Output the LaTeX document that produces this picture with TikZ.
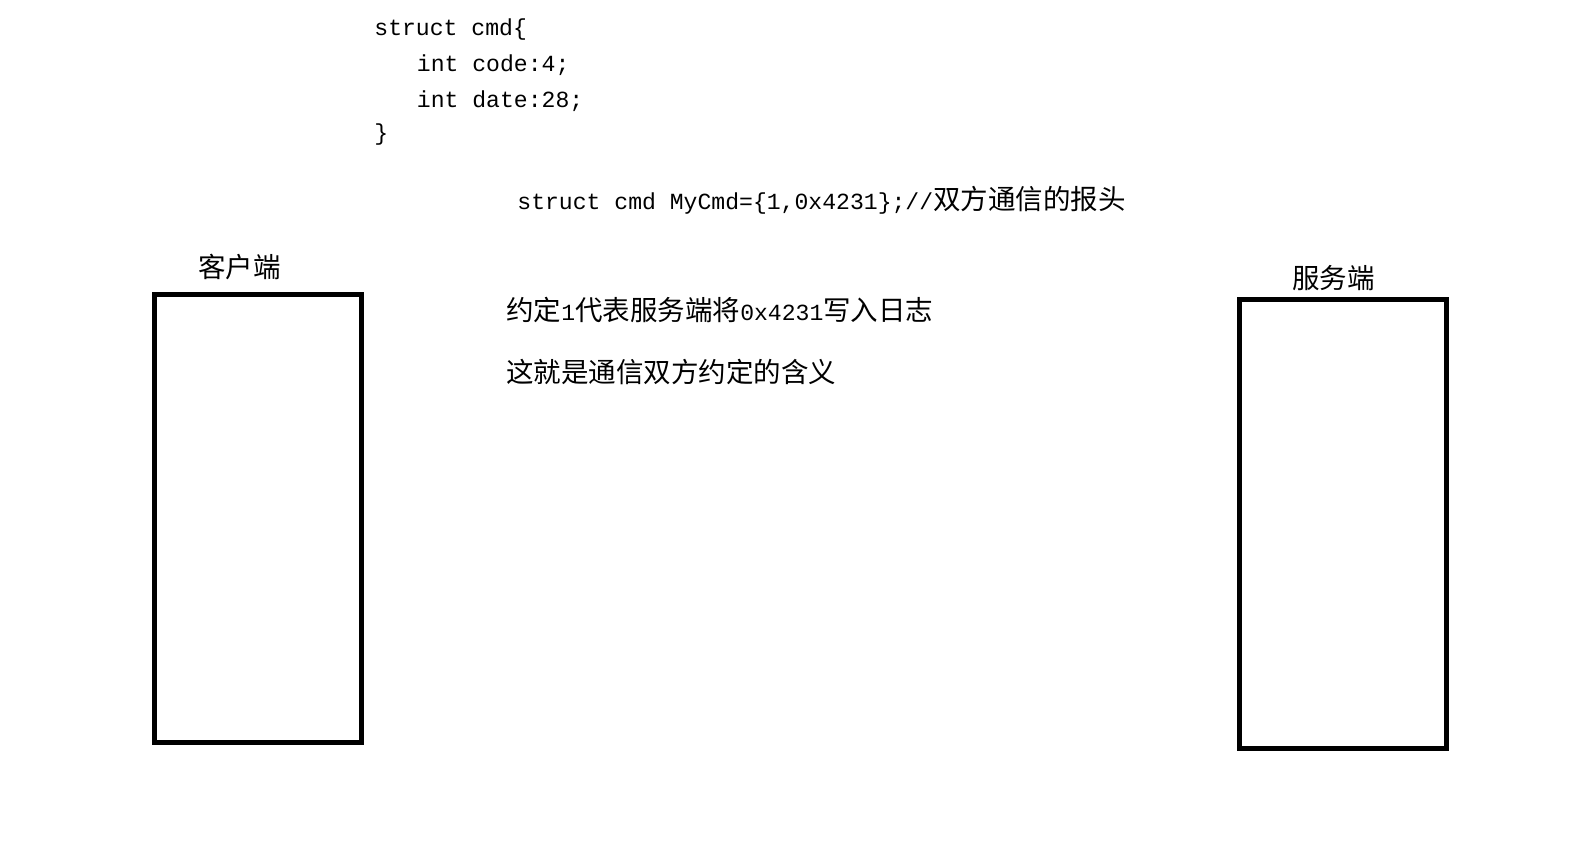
\documentclass[tikz,border=0pt]{standalone}
\usepackage{fontspec}
\newfontfamily\codefont[Scale=0.84]{Liberation Mono}
\newfontfamily\cjk{Noto Sans CJK SC}

\begin{document}
\begin{tikzpicture}[x=0.5pt,y=-0.5pt,
        txt/.style={anchor=west,inner sep=0pt,font=\fontsize{13.75}{16}\selectfont\codefont},
        endbox/.style={draw,line width=2.5pt,minimum width=103.5pt,minimum height=224pt,inner sep=0pt}]
        \useasboundingbox (0,0) rectangle (1589,855);
        \node[txt] (l1) at (374,30) {struct cmd\{};
        \node[txt] (l2) at (416.5,65) {int code:4;};
        \node[txt] (l3) at (416.5,101) {int date:28;};
        \node[txt] (l4) at (374,135) {\}};
        \node[txt] (hdr) at (517,200) {struct cmd MyCmd=\{1,0x4231\};//{\cjk 双方通信的报头}};
        \node[txt] (cname) at (198,267.5) {\cjk 客户端};
        \node[txt] (sname) at (1292,278) {\cjk 服务端};
        \node[txt] (rule) at (506,310) {{\cjk 约定}1{\cjk 代表服务端将}0x4231{\cjk 写入日志}};
        \node[txt] (mean) at (506,372) {\cjk 这就是通信双方约定的含义};
        \node[endbox] (client) at (258,518.5) {};
        \node[endbox] (server) at (1342.75,524) {};
    \end{tikzpicture}
\end{document}
